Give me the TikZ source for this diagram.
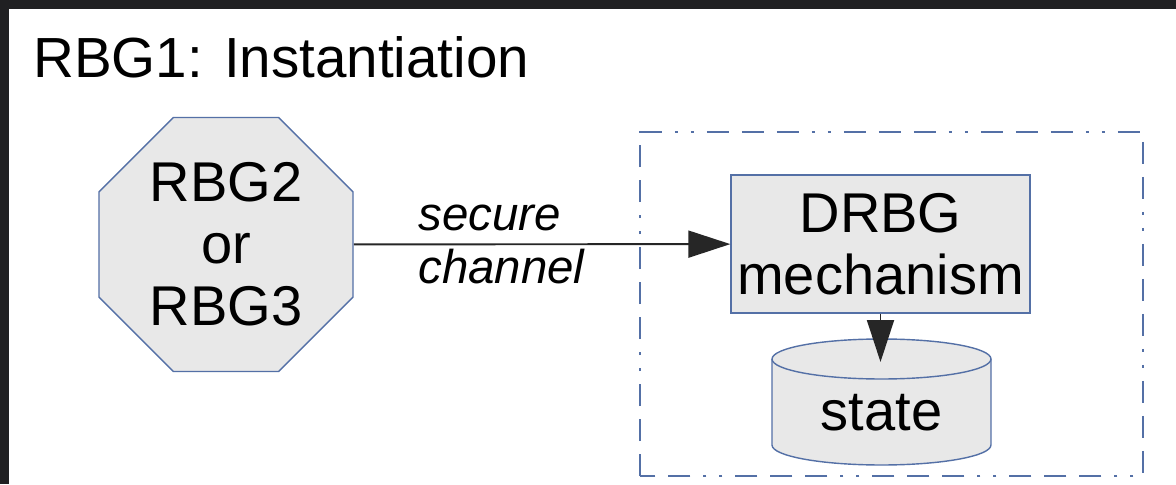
\documentclass[tikz,border=0pt]{standalone}
\usepackage{fontspec}
\setmainfont{Liberation Sans}
\usetikzlibrary{shapes.geometric,arrows.meta}
\definecolor{rbgblue}{RGB}{84,112,166}
\definecolor{rbgfill}{RGB}{232,232,232}
\definecolor{rbgdark}{RGB}{32,32,34}

\begin{document}
\begin{tikzpicture}[x=0.02cm,y=0.02cm,>={Triangle[length=0.84cm,width=0.54cm]}]
        \tikzstyle{every node} = [inner sep=0pt]
        \tikzstyle{blk} = [draw=rbgblue, line width=0.8pt, fill=rbgfill]
        \fill[rbgdark] (0,0) rectangle (1176,484);
        \fill[white] (9,0) rectangle (1176,475);

        \node[anchor=base west, font=\fontsize{32.2}{36}\selectfont] (title) at (33,406) {RBG1: Instantiation};
        \node[blk, regular polygon, regular polygon sides=8, minimum size=5.5cm, align=center,
              font=\fontsize{31.9}{35.3}\selectfont] (src) at (226,239.5) {RBG2\\or\\RBG3};

        % instantiated DRBG
        \draw[rbgblue, line width=1.4pt, dash pattern=on 0.44cm off 0.26cm on 0.44cm off 0.26cm on 0.44cm off 0.26cm on 0.06cm off 0.26cm on 0.06cm off 0.26cm]
            (640,8) rectangle (1143,352);
        \node[blk, rectangle, minimum width=5.98cm, minimum height=2.76cm, align=center,
              font=\fontsize{31.9}{35.3}\selectfont] (drbg) at (880.5,240) {DRBG\\mechanism};
        \draw[blk] (772,125) -- (772,39) arc[start angle=180, end angle=360, x radius=2.19cm, y radius=0.4cm]
            -- (991,125) arc[start angle=0, end angle=180, x radius=2.19cm, y radius=0.4cm] -- cycle;
        \draw[rbgblue, line width=0.8pt] (772,125) arc[start angle=180, end angle=360, x radius=2.19cm, y radius=0.4cm];
        \node[anchor=base, font=\fontsize{31.9}{36}\selectfont] (st) at (881.5,54) {state};
        \coordinate (sttop) at (880.5,122);

        \node[align=left, anchor=west, font=\itshape\fontsize{27}{30.2}\selectfont] (ch) at (418,240) {secure\\channel};

        \foreach \from/\to in {src/drbg, drbg/sttop}
            \draw[->, line width=1.1pt, black!85] (\from) -- (\to);
\end{tikzpicture}
\end{document}
